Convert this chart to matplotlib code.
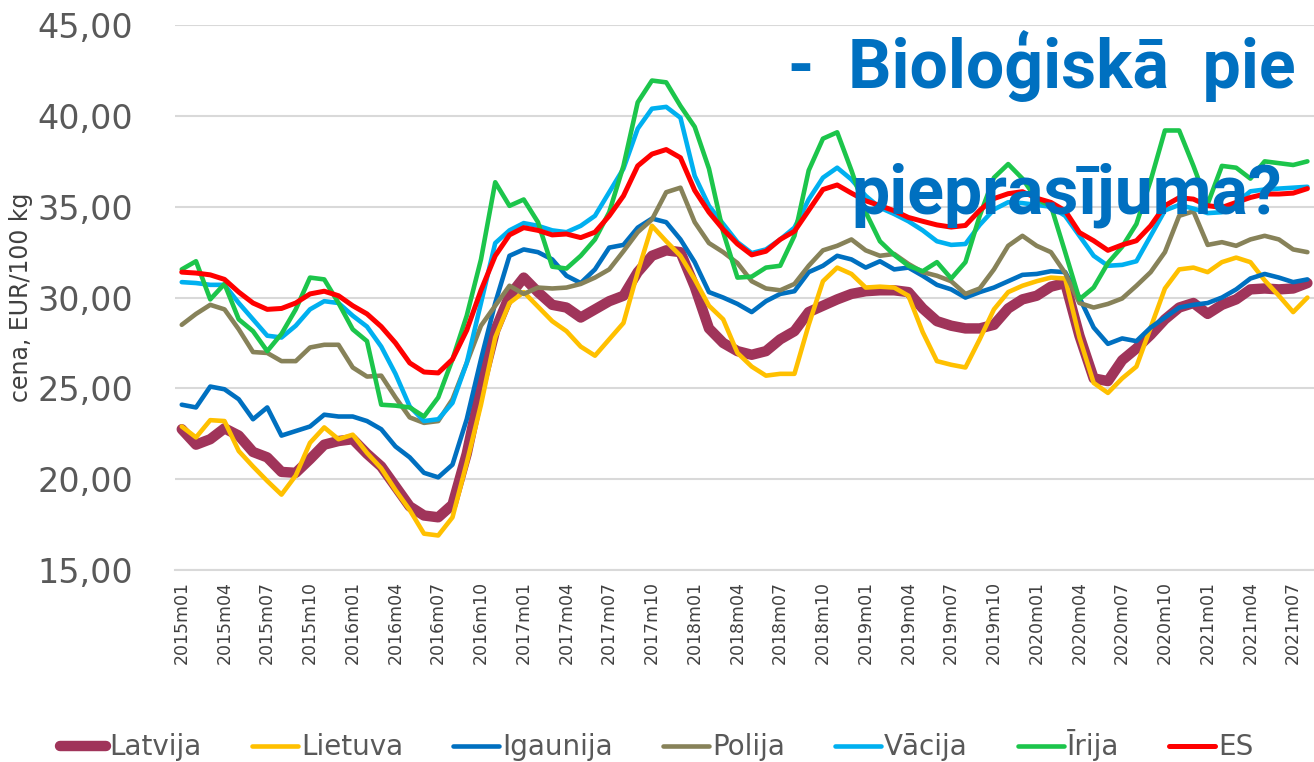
import numpy as np
import matplotlib
matplotlib.use("Agg")
from matplotlib import pyplot as plt

# monthly prices, EUR/100 kg, 2015m01 .. 2021m08
months = [f"{y}m{m:02d}" for y in range(2015, 2022) for m in range(1, 13)][:80]

latvija = [22.75, 21.9, 22.2, 22.8, 22.4, 21.5, 21.2, 20.4, 20.35, 21.1, 21.9, 22.1, 22.2, 21.4,
           20.7, 19.6, 18.5, 18.0, 17.9, 18.6, 21.4, 25.1, 28.2, 30.1, 31.1, 30.3, 29.6, 29.45,
           28.9, 29.35, 29.8, 30.1, 31.4, 32.3, 32.6, 32.5, 30.6, 28.3, 27.5, 27.05, 26.85, 27.05,
           27.7, 28.15, 29.2, 29.55, 29.9, 30.2, 30.35, 30.4, 30.4, 30.3, 29.4, 28.7, 28.45, 28.3,
           28.3, 28.5, 29.4, 29.9, 30.1, 30.6, 30.8, 27.9, 25.55, 25.4, 26.55, 27.2, 27.95, 28.8,
           29.45, 29.7, 29.1, 29.6, 29.9, 30.45, 30.5, 30.45, 30.5, 30.8]
lietuva = [22.9, 22.3, 23.25, 23.2, 21.55, 20.7, 19.9, 19.15, 20.2, 22.0, 22.85, 22.2, 22.45, 21.45,
           20.6, 19.4, 18.3, 17.0, 16.9, 17.9, 20.9, 24.1, 27.8, 29.7, 30.3, 29.5, 28.7, 28.15,
           27.3, 26.8, 27.7, 28.6, 31.4, 33.95, 33.1, 32.3, 31.0, 29.55, 28.8, 26.95, 26.2, 25.7,
           25.8, 25.8, 28.5, 30.9, 31.65, 31.3, 30.55, 30.6, 30.55, 30.1, 28.1, 26.5, 26.3, 26.15,
           27.7, 29.35, 30.3, 30.65, 30.9, 31.1, 31.05, 27.8, 25.3, 24.75, 25.55, 26.2, 28.35, 30.5,
           31.55, 31.65, 31.4, 31.95, 32.2, 31.95, 30.95, 30.1, 29.2, 30.0]
igaunija = [24.1, 23.95, 25.1, 24.95, 24.4, 23.3, 23.95, 22.4, 22.65, 22.9, 23.55, 23.45, 23.45, 23.2,
            22.75, 21.8, 21.2, 20.35, 20.1, 20.8, 23.3, 26.6, 29.7, 32.3, 32.65, 32.5, 32.1, 31.2,
            30.8, 31.55, 32.75, 32.9, 33.85, 34.35, 34.15, 33.2, 31.95, 30.3, 30.0, 29.65, 29.2, 29.8,
            30.2, 30.35, 31.4, 31.75, 32.3, 32.1, 31.65, 32.0, 31.55, 31.65, 31.2, 30.7, 30.45, 30.0,
            30.3, 30.55, 30.9, 31.25, 31.3, 31.45, 31.4, 30.0, 28.35, 27.45, 27.75, 27.6, 28.35, 28.9,
            29.45, 29.6, 29.7, 30.0, 30.45, 31.05, 31.3, 31.1, 30.85, 31.0]
polija = [28.5, 29.1, 29.6, 29.35, 28.25, 27.0, 26.95, 26.5, 26.5, 27.25, 27.4, 27.4, 26.15, 25.65,
          25.7, 24.5, 23.4, 23.1, 23.2, 24.4, 26.4, 28.45, 29.55, 30.65, 30.2, 30.55, 30.5, 30.55,
          30.75, 31.1, 31.55, 32.55, 33.6, 34.3, 35.8, 36.05, 34.15, 33.0, 32.5, 31.9, 30.9, 30.5,
          30.4, 30.75, 31.75, 32.6, 32.85, 33.2, 32.6, 32.3, 32.4, 31.85, 31.4, 31.2, 30.9, 30.2,
          30.5, 31.55, 32.85, 33.4, 32.85, 32.5, 31.35, 29.7, 29.45, 29.65, 29.95, 30.65, 31.4, 32.5,
          34.5, 34.75, 32.9, 33.05, 32.85, 33.2, 33.4, 33.2, 32.65, 32.5]
vacija = [30.85, 30.8, 30.7, 30.7, 29.7, 28.8, 27.9, 27.8, 28.45, 29.35, 29.8, 29.7, 29.0, 28.4,
          27.3, 25.8, 24.0, 23.2, 23.3, 24.2, 26.4, 29.7, 33.0, 33.7, 34.1, 33.95, 33.7, 33.6,
          33.95, 34.5, 35.8, 37.1, 39.3, 40.4, 40.5, 39.9, 36.7, 35.05, 34.05, 33.05, 32.45, 32.65,
          33.2, 33.85, 35.4, 36.6, 37.15, 36.5, 35.6, 34.95, 34.6, 34.2, 33.7, 33.1, 32.9, 32.95,
          34.0, 34.85, 35.25, 35.2, 35.1, 35.0, 34.5, 33.4, 32.3, 31.75, 31.8, 32.0, 33.4, 34.8,
          35.1, 34.9, 34.65, 34.7, 35.2, 35.85, 35.95, 36.0, 36.05, 36.1]
irija = [31.55, 32.0, 29.9, 30.75, 28.8, 28.15, 27.05, 28.0, 29.35, 31.1, 31.0, 29.7, 28.25, 27.6,
         24.1, 24.05, 23.95, 23.45, 24.5, 26.6, 29.0, 32.1, 36.35, 35.05, 35.4, 34.15, 31.7, 31.6,
         32.3, 33.2, 34.7, 37.25, 40.75, 41.95, 41.85, 40.55, 39.4, 37.1, 33.6, 31.1, 31.15, 31.65,
         31.75, 33.4, 37.0, 38.75, 39.1, 37.0, 34.7, 33.1, 32.35, 31.75, 31.45, 31.95, 31.05, 31.95,
         34.5, 36.6, 37.35, 36.55, 35.4, 35.05, 32.5, 29.9, 30.55, 31.9, 32.8, 34.05, 36.45, 39.2,
         39.2, 37.25, 35.15, 37.25, 37.15, 36.55, 37.5, 37.4, 37.3, 37.5]
es = [31.4, 31.35, 31.25, 31.0, 30.3, 29.7, 29.35, 29.4, 29.7, 30.2, 30.35, 30.1, 29.55, 29.1,
      28.4, 27.5, 26.4, 25.9, 25.85, 26.6, 28.2, 30.4, 32.3, 33.45, 33.85, 33.7, 33.45, 33.5,
      33.3, 33.6, 34.5, 35.6, 37.25, 37.9, 38.15, 37.7, 35.9, 34.7, 33.75, 32.95, 32.35, 32.55,
      33.2, 33.65, 34.8, 35.95, 36.2, 35.75, 35.33, 35.06, 34.78, 34.41, 34.2, 34.0, 33.88, 33.97,
      34.8, 35.45, 35.72, 35.83, 35.47, 35.24, 34.78, 33.58, 33.13, 32.6, 32.9, 33.13, 33.95, 35.06,
      35.5, 35.42, 35.06, 34.96, 35.24, 35.51, 35.7, 35.7, 35.75, 36.0]

names = ["Latvija", "Lietuva", "Igaunija", "Polija", "Vācija", "Īrija", "ES"]
colors = ["#A0345A", "#FFC000", "#0070C0", "#878259", "#00B0F0", "#1CC54B", "#FF0000"]
widths = [7.5, 3.3, 3.3, 3.3, 3.3, 3.3, 3.6]
yticks = [15, 20, 25, 30, 35, 40, 45]

fig = plt.figure(figsize=(13.14, 7.62), dpi=100)
ax = fig.add_axes([0.1329, 0.252, 0.8675, 0.715])

x = np.arange(len(months))
for vals, name, col, lw in zip([latvija, lietuva, igaunija, polija, vacija, irija, es], names, colors, widths):
    ax.plot(x, vals, color=col, lw=lw, label=name, solid_joinstyle="round", solid_capstyle="round")

ax.set_xlim(-0.5, len(months) - 0.5)
ax.set_ylim(15, 45)
ax.set_yticks(yticks)
ax.set_yticklabels([f"{v:.2f}".replace(".", ",") for v in yticks], fontsize=24, color="#595959")
ax.set_xticks(x[::3])
ax.set_xticklabels(months[::3], rotation=90, fontsize=12.5, color="#404040")
ax.tick_params(axis="both", length=0)
ax.tick_params(axis="y", pad=30)
ax.tick_params(axis="x", pad=8)
ax.grid(axis="y", color="#D9D9D9", lw=1.5)
ax.set_axisbelow(True)
for s in ["top", "right", "left"]:
    ax.spines[s].set_visible(False)
ax.spines["bottom"].set_color("#D9D9D9")
ax.spines["bottom"].set_linewidth(1.5)
ax.set_ylabel("cena, EUR/100 kg", fontsize=17, color="#404040", labelpad=3)

fig.legend(loc="center", bbox_to_anchor=(0.5, 0.022), ncol=7, frameon=False,
           handlelength=1.65, columnspacing=1.8, handletextpad=0.12,
           prop={"size": 20}, labelcolor="#595959")

title_font = {"family": ["Roboto", "DejaVu Sans"], "weight": "bold", "size": 49}
fig.text(0.6, 0.8845, "-  Bioloģiskā  pie", color="#0070C0", va="baseline", ha="left", **title_font)
fig.text(0.648, 0.72, "pieprasījuma?", color="#0070C0", va="baseline", ha="left", **title_font)

fig.savefig("out.png", dpi=100)
